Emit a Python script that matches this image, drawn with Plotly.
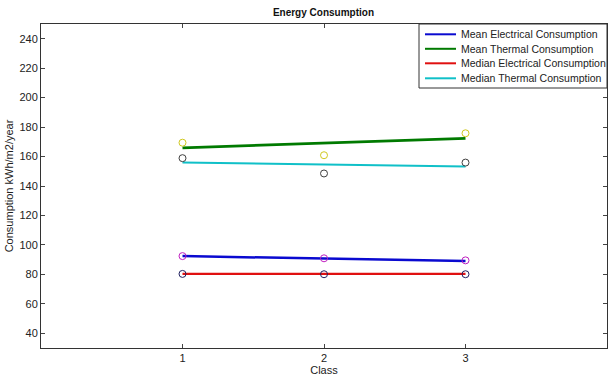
import plotly.graph_objects as go

classes = [1, 2, 3]

series_names = ["Mean Electrical Consumption", "Mean Thermal Consumption",
                "Median Electrical Consumption", "Median Thermal Consumption"]

# Line series (fitted lines as drawn)
mean_elec_line = [92.4, 90.7, 89.0]
mean_therm_line = [165.9, 169.1, 172.4]
median_elec_line = [80.3, 80.3, 80.3]
median_therm_line = [155.9, 154.5, 153.2]

# Point series (circle markers)
mean_elec_pts = [92.4, 90.9, 89.5]
mean_therm_pts = [169.4, 160.9, 175.8]
median_elec_pts = [80.3, 80.1, 80.1]
median_therm_pts = [158.9, 148.5, 155.9]

y_ticks = [40, 60, 80, 100, 120, 140, 160, 180, 200, 220, 240]
x_ticks = [1, 2, 3]

line_colors = ["#0a0ad0", "#007a00", "#e01010", "#10c0c8"]
line_widths = [2.5, 2.8, 2.2, 2.0]
marker_colors = ["#c020c0", "#d0c820", "#202060", "#404040"]

fig = go.Figure()

line_data = [mean_elec_line, mean_therm_line, median_elec_line, median_therm_line]
pt_data = [mean_elec_pts, mean_therm_pts, median_elec_pts, median_therm_pts]

for name, ys, col, w in zip(series_names, line_data, line_colors, line_widths):
    fig.add_trace(go.Scatter(x=classes, y=ys, mode="lines", name=name,
                             showlegend=False, line=dict(color=col, width=w)))

for ys, col in zip(pt_data, marker_colors):
    fig.add_trace(go.Scatter(x=classes, y=ys, mode="markers", showlegend=False,
                             marker=dict(symbol="circle-open", size=7,
                                         color=col, line=dict(width=1))))

# Compact MATLAB-style legend box (paper coordinates)
W, H = 608, 377
ml, mr, mt, mb = 41, 1, 24, 29
pw, ph = W - ml - mr, H - mt - mb


def px(x):
    return (x - ml) / pw


def py(y):
    return (H - mb - y) / ph


fig.add_shape(type="rect", xref="paper", yref="paper",
              x0=px(419), x1=px(607), y0=py(88), y1=py(24),
              line=dict(color="#333", width=1), fillcolor="white", layer="above")
row_y = [34.3, 48.8, 63.3, 78.3]
for name, col, ry in zip(series_names, line_colors, row_y):
    fig.add_shape(type="line", xref="paper", yref="paper",
                  x0=px(425), x1=px(456), y0=py(ry), y1=py(ry),
                  line=dict(color=col, width=2), layer="above")
    fig.add_annotation(xref="paper", yref="paper", x=px(459), y=py(ry),
                       text=name, showarrow=False, xanchor="left", yanchor="middle",
                       font=dict(size=10.5, color="#222"))

fig.update_layout(
    width=W, height=H,
    margin=dict(l=ml, r=mr, t=mt, b=mb),
    paper_bgcolor="white", plot_bgcolor="white",
    font=dict(family="Liberation Sans, Arial, sans-serif", size=11, color="#222"),
    title=dict(text="<b>Energy Consumption</b>", x=0.532, xanchor="center",
               y=0.968, yanchor="middle", font=dict(size=10, color="#111")),
    showlegend=False,
)
fig.update_xaxes(range=[0, 4], tickvals=x_ticks, ticks="inside", ticklen=4,
                 showline=True, linecolor="#333", linewidth=1, mirror="ticks",
                 showgrid=False, zeroline=False, automargin=False,
                 tickfont=dict(size=11),
                 title=dict(text="Class", standoff=1, font=dict(size=11)))
fig.update_yaxes(range=[30, 250], tickvals=y_ticks, ticks="inside", ticklen=4,
                 showline=True, linecolor="#333", linewidth=1, mirror="ticks",
                 showgrid=False, zeroline=False, automargin=False,
                 tickfont=dict(size=11),
                 title=dict(text="Consumption kWh/m2/year", standoff=3, font=dict(size=11)))

fig.write_html("out.html", config={"displayModeBar": False},
               post_script="document.body.style.margin='0px';")
